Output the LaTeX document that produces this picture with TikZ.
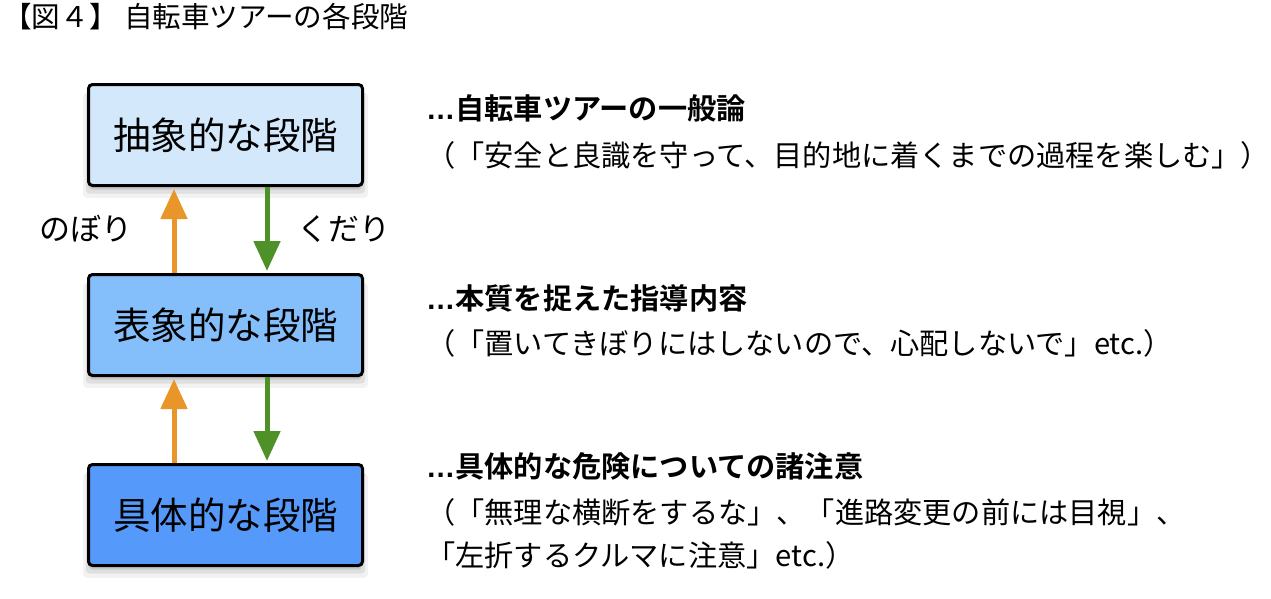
\documentclass[tikz,border=0pt]{standalone}
\usepackage{fontspec}
\setmainfont{Noto Sans CJK JP}[BoldFont={Noto Sans CJK JP Bold}]
\newfontfamily\latinfont{Liberation Sans}
\usetikzlibrary{arrows.meta,shadows}
\definecolor{cA}{HTML}{D3E8FB}
\definecolor{cB}{HTML}{85BFFB}
\definecolor{cC}{HTML}{5599FA}
\definecolor{upc}{HTML}{E8962A}
\definecolor{downc}{HTML}{4E9128}
\tikzset{
  stage/.style={draw=black, line width=3pt, rounded corners=4pt,
    minimum width=274pt, minimum height=101pt, inner sep=0pt,
    font=\fontsize{37.5}{42}\selectfont,
    general shadow={shadow yshift=-4pt, fill=black, opacity=0.10},
    general shadow={shadow yshift=-7pt, fill=black, opacity=0.08, shadow scale=1.02},
    general shadow={shadow yshift=-10pt, fill=black, opacity=0.05, shadow scale=1.04}},
  desc/.style={anchor=west, inner sep=0pt, font=\fontsize{29.2}{32}\selectfont},
  head/.style={desc, font=\fontsize{29.2}{32}\selectfont\bfseries},
  lbl/.style={inner sep=0pt, font=\fontsize{31}{34}\selectfont},
  upar/.style={draw=upc, line width=5pt, -{Triangle[width=26pt,length=30pt]}},
  downar/.style={draw=downc, line width=5pt, -{Triangle[width=26pt,length=30pt]}},
}
\begin{document}
\begin{tikzpicture}[x=1pt,y=-1pt]
\useasboundingbox (0,0) rectangle (1271,598);
\node[anchor=west, inner sep=0pt, font=\fontsize{28.6}{32}\selectfont] (title) at (3,17) {【図４】 自転車ツアーの各段階};
\node[stage, fill=cA] (top) at (225.5,135) {抽象的な段階};
\node[stage, fill=cB] (mid) at (225.5,325) {表象的な段階};
\node[stage, fill=cC] (bot) at (225.5,515) {具体的な段階};
\draw[upar] ([xshift=-51.5pt]mid.north) -- ([xshift=-51.5pt,yshift=-2pt]top.south);
\draw[downar] ([xshift=41.5pt]top.south) -- ([xshift=41.5pt,yshift=2pt]mid.north);
\draw[upar] ([xshift=-51.5pt]bot.north) -- ([xshift=-51.5pt,yshift=-2pt]mid.south);
\draw[downar] ([xshift=41.5pt]mid.south) -- ([xshift=41.5pt,yshift=2pt]bot.north);
\node[lbl] (nobori) at (86,229) {のぼり};
\node[lbl] (kudari) at (344,229) {くだり};
\node[head] (h1) at (426,108) {{\latinfont\bfseries …}自転車ツアーの一般論};
\node[desc] (d1) at (426,155) {（「安全と良識を守って、目的地に着くまでの過程を楽しむ」）};
\node[head] (h2) at (426,298) {{\latinfont\bfseries …}本質を捉えた指導内容};
\node[desc] (d2) at (426,343) {（「置いてきぼりにはしないので、心配しないで」etc.）};
\node[head] (h3) at (426,466) {{\latinfont\bfseries …}具体的な危険についての諸注意};
\node[desc] (d3) at (426,512) {（「無理な横断をするな」、「進路変更の前には目視」、};
\node[desc] (d4) at (426,555) {「左折するクルマに注意」etc.）};
\end{tikzpicture}
\end{document}
